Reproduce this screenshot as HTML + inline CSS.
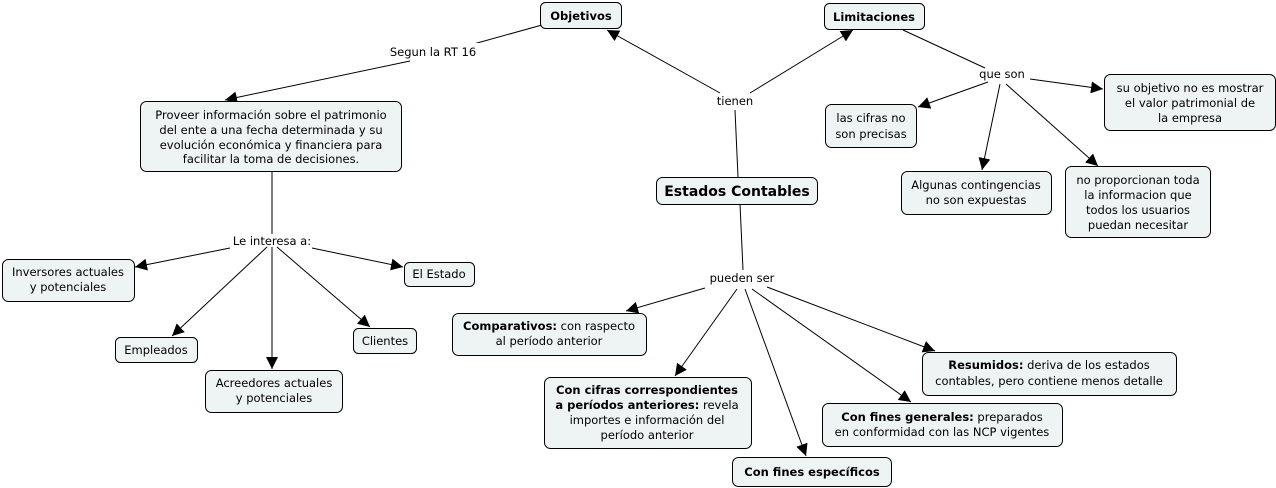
<!DOCTYPE html>
<html><head><meta charset="utf-8"><style>
body{margin:0;background:#fff}
svg{display:block}
text{font-family:"DejaVu Sans","Liberation Sans",sans-serif;font-size:11.5px;fill:#000}
.b{font-weight:bold}
rect{fill:#eef3f4;stroke:#000;stroke-width:1}
line{stroke:#000;stroke-width:1}
</style></head><body>
<svg width="1276" height="488" viewBox="0 0 1276 488" xmlns="http://www.w3.org/2000/svg">
<defs><marker id="a" viewBox="0 0 10 10" refX="10" refY="5" markerWidth="12" markerHeight="12" markerUnits="userSpaceOnUse" orient="auto"><path d="M0,0L10,5L0,10z" fill="#000"/></marker></defs>
<!-- connectors -->
<g>
<line x1="542" y1="25" x2="470" y2="45"/>
<line x1="410" y1="61" x2="225" y2="100" marker-end="url(#a)"/>
<line x1="720" y1="93" x2="607" y2="30" marker-end="url(#a)"/>
<line x1="750" y1="93" x2="853" y2="30" marker-end="url(#a)"/>
<line x1="735" y1="110" x2="738" y2="177"/>
<line x1="903" y1="30" x2="985" y2="68"/>
<line x1="988" y1="82" x2="918" y2="107" marker-end="url(#a)"/>
<line x1="1000" y1="84" x2="982" y2="170" marker-end="url(#a)"/>
<line x1="1006" y1="84" x2="1098" y2="166" marker-end="url(#a)"/>
<line x1="1030" y1="79" x2="1103" y2="89" marker-end="url(#a)"/>
<line x1="272" y1="171" x2="272" y2="234"/>
<line x1="230" y1="248" x2="135" y2="267" marker-end="url(#a)"/>
<line x1="312" y1="248" x2="403" y2="267" marker-end="url(#a)"/>
<line x1="267" y1="247" x2="172" y2="336" marker-end="url(#a)"/>
<line x1="272" y1="247" x2="272" y2="369" marker-end="url(#a)"/>
<line x1="277" y1="247" x2="370" y2="327" marker-end="url(#a)"/>
<line x1="740" y1="204" x2="743" y2="270"/>
<line x1="705" y1="288" x2="626" y2="311" marker-end="url(#a)"/>
<line x1="737" y1="289" x2="675" y2="376" marker-end="url(#a)"/>
<line x1="745" y1="289" x2="806" y2="456" marker-end="url(#a)"/>
<line x1="752" y1="289" x2="911" y2="402" marker-end="url(#a)"/>
<line x1="767" y1="287" x2="935" y2="351" marker-end="url(#a)"/>
</g>
<!-- link labels -->
<rect x="385" y="43" width="97" height="16" style="fill:#fff;stroke:none"/>
<text x="433" y="56" text-anchor="middle">Segun la RT 16</text>
<text x="735" y="105" text-anchor="middle">tienen</text>
<text x="1002" y="78" text-anchor="middle">que son</text>
<text x="272" y="245" text-anchor="middle">Le interesa a:</text>
<text x="742" y="282" text-anchor="middle">pueden ser</text>
<!-- nodes -->
<rect x="540.5" y="2.5" width="81" height="26" rx="5"/>
<text x="581" y="20" text-anchor="middle" class="b">Objetivos</text>
<rect x="824.5" y="3.5" width="100" height="26" rx="5"/>
<text x="874" y="21" text-anchor="middle" class="b">Limitaciones</text>
<rect x="140.5" y="101.5" width="261" height="70" rx="6"/>
<text text-anchor="middle"><tspan x="271" y="119">Proveer información sobre el patrimonio</tspan><tspan x="271" y="134">del ente a una fecha determinada y su</tspan><tspan x="271" y="149">evolución económica y financiera para</tspan><tspan x="271" y="163">facilitar la toma de decisiones.</tspan></text>
<rect x="656.5" y="177.5" width="161" height="27" rx="6"/>
<text x="737" y="196" text-anchor="middle" class="b" style="font-size:14px">Estados Contables</text>
<rect x="825.5" y="104.5" width="91" height="43" rx="6"/>
<text text-anchor="middle"><tspan x="871" y="122">las cifras no</tspan><tspan x="871" y="138">son precisas</tspan></text>
<rect x="1104.5" y="74.5" width="171" height="56" rx="6"/>
<text text-anchor="middle"><tspan x="1190" y="92">su objetivo no es mostrar</tspan><tspan x="1190" y="107">el valor patrimonial de</tspan><tspan x="1190" y="122">la empresa</tspan></text>
<rect x="901.5" y="171.5" width="150" height="43" rx="6"/>
<text text-anchor="middle"><tspan x="976" y="189">Algunas contingencias</tspan><tspan x="976" y="204">no son expuestas</tspan></text>
<rect x="1065.5" y="166.5" width="145" height="71" rx="6"/>
<text text-anchor="middle"><tspan x="1138" y="184">no proporcionan toda</tspan><tspan x="1138" y="199">la informacion que</tspan><tspan x="1138" y="214">todos los usuarios</tspan><tspan x="1138" y="229">puedan necesitar</tspan></text>
<rect x="2.5" y="259.5" width="132" height="42" rx="6"/>
<text text-anchor="middle"><tspan x="68" y="276">Inversores actuales</tspan><tspan x="68" y="291">y potenciales</tspan></text>
<rect x="404.5" y="262.5" width="70" height="24" rx="5"/>
<text x="439" y="278" text-anchor="middle">El Estado</text>
<rect x="115.5" y="337.5" width="82" height="25" rx="5"/>
<text x="156" y="354" text-anchor="middle">Empleados</text>
<rect x="353.5" y="328.5" width="63" height="25" rx="5"/>
<text x="385" y="345" text-anchor="middle">Clientes</text>
<rect x="205.5" y="370.5" width="137" height="42" rx="6"/>
<text text-anchor="middle"><tspan x="274" y="387">Acreedores actuales</tspan><tspan x="274" y="402">y potenciales</tspan></text>
<rect x="452.5" y="313.5" width="194" height="42" rx="6"/>
<text text-anchor="middle"><tspan x="549" y="330"><tspan class="b">Comparativos:</tspan> con raspecto</tspan><tspan x="549" y="345">al período anterior</tspan></text>
<rect x="544.5" y="377.5" width="207" height="71" rx="6"/>
<text text-anchor="middle"><tspan x="647" y="394" class="b">Con cifras correspondientes</tspan><tspan x="647" y="409"><tspan class="b">a períodos anteriores:</tspan> revela</tspan><tspan x="647" y="424">importes e información del</tspan><tspan x="647" y="439">período anterior</tspan></text>
<rect x="922.5" y="352.5" width="254" height="43" rx="6"/>
<text text-anchor="middle"><tspan x="1049" y="369"><tspan class="b">Resumidos:</tspan> deriva de los estados</tspan><tspan x="1049" y="385">contables, pero contiene menos detalle</tspan></text>
<rect x="822.5" y="403.5" width="240" height="43" rx="6"/>
<text text-anchor="middle"><tspan x="942" y="421"><tspan class="b">Con fines generales:</tspan> preparados</tspan><tspan x="942" y="436">en conformidad con las NCP vigentes</tspan></text>
<rect x="732.5" y="457.5" width="159" height="29" rx="6"/>
<text x="812" y="476" text-anchor="middle" class="b">Con fines específicos</text>
</svg>
</body></html>
